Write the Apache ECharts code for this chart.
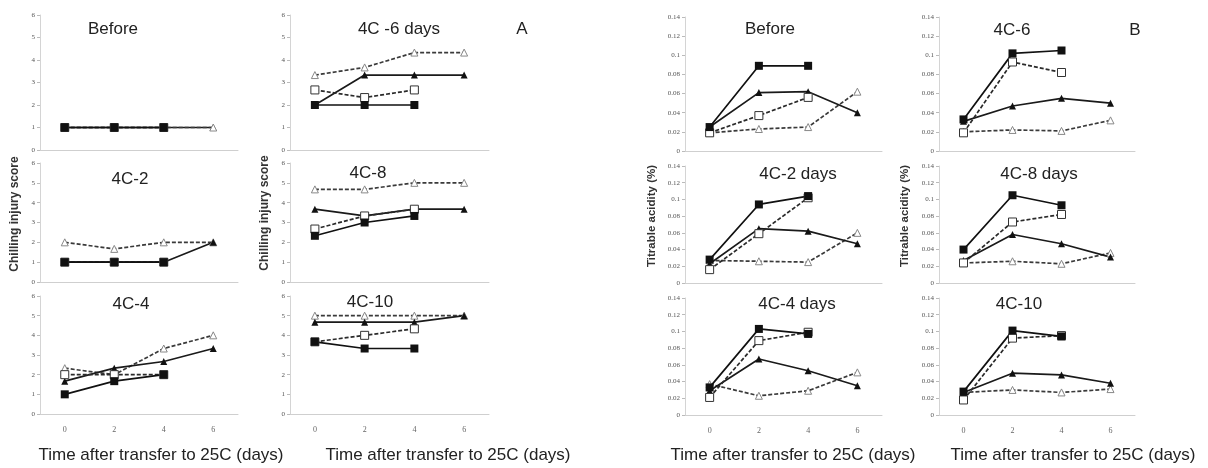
<!DOCTYPE html>
<html><head><meta charset="utf-8">
<script src="https://cdn.jsdelivr.net/npm/echarts@6/dist/echarts.min.js"></script>
<style>html,body{margin:0;padding:0;background:#fff}#c{width:1208px;height:468px}</style>
</head><body><div id="c"></div>
<script>
// x categories: days after transfer to 25C
const days = ['0', '2', '4', '6'];

// ---- Panel A: chilling injury score ----
const aBeforeSqF = [1, 1, 1, null];
const aBeforeSqO = [1, 1, 1, null];
const aBeforeTriF = [1, 1, 1, 1];
const aBeforeTriO = [1, 1, 1, 1];

const a6SqF = [2, 2, 2, null];
const a6SqO = [2.67, 2.33, 2.67, null];
const a6TriF = [2, 3.33, 3.33, 3.33];
const a6TriO = [3.33, 3.67, 4.33, 4.33];

const a2SqF = [1, 1, 1, null];
const a2SqO = [1, 1, 1, null];
const a2TriF = [1, 1, 1, 2];
const a2TriO = [2, 1.67, 2, 2];

const a8SqF = [2.33, 3, 3.33, null];
const a8SqO = [2.67, 3.33, 3.67, null];
const a8TriF = [3.67, 3.33, 3.67, 3.67];
const a8TriO = [4.67, 4.67, 5, 5];

const a4SqF = [1, 1.67, 2, null];
const a4SqO = [2, 2, 2, null];
const a4TriF = [1.67, 2.33, 2.67, 3.33];
const a4TriO = [2.33, 2, 3.33, 4];

const a10SqF = [3.67, 3.33, 3.33, null];
const a10SqO = [3.67, 4, 4.33, null];
const a10TriF = [4.67, 4.67, 4.67, 5];
const a10TriO = [5, 5, 5, 5];

// ---- Panel B: titrable acidity (%) ----
const bBeforeSqF = [0.025, 0.089, 0.089, null];
const bBeforeSqO = [0.019, 0.037, 0.056, null];
const bBeforeTriF = [0.025, 0.061, 0.062, 0.040];
const bBeforeTriO = [0.019, 0.023, 0.025, 0.062];

const b6SqF = [0.033, 0.102, 0.105, null];
const b6SqO = [0.019, 0.093, 0.082, null];
const b6TriF = [0.031, 0.047, 0.055, 0.050];
const b6TriO = [0.020, 0.022, 0.021, 0.032];

const b2SqF = [0.028, 0.094, 0.104, null];
const b2SqO = [0.016, 0.059, 0.102, null];
const b2TriF = [0.023, 0.065, 0.062, 0.047];
const b2TriO = [0.027, 0.026, 0.025, 0.060];

const b8SqF = [0.040, 0.105, 0.093, null];
const b8SqO = [0.024, 0.073, 0.082, null];
const b8TriF = [0.027, 0.058, 0.047, 0.031];
const b8TriO = [0.024, 0.026, 0.023, 0.036];

const b4SqF = [0.033, 0.103, 0.097, null];
const b4SqO = [0.021, 0.089, 0.099, null];
const b4TriF = [0.029, 0.067, 0.053, 0.035];
const b4TriO = [0.037, 0.023, 0.029, 0.051];

const b10SqF = [0.028, 0.101, 0.094, null];
const b10SqO = [0.018, 0.092, 0.095, null];
const b10TriF = [0.027, 0.050, 0.048, 0.038];
const b10TriO = [0.027, 0.030, 0.027, 0.031];

// panel layout (positions only)
const panels = [
  {title:'Before',     tx:113,  ty:29,  left:40,  width:198, top:15,  height:135, row:0, kind:'A', d:[aBeforeTriF,aBeforeTriO,aBeforeSqO,aBeforeSqF]},
  {title:'4C -6 days', tx:399,  ty:29,  left:290, width:199, top:15,  height:135, row:0, kind:'A', d:[a6TriO,a6TriF,a6SqO,a6SqF]},
  {title:'4C-2',       tx:130,  ty:179, left:40,  width:198, top:163, height:119, row:1, kind:'A', d:[a2TriO,a2TriF,a2SqO,a2SqF]},
  {title:'4C-8',       tx:368,  ty:173, left:290, width:199, top:163, height:119, row:1, kind:'A', d:[a8TriO,a8TriF,a8SqO,a8SqF]},
  {title:'4C-4',       tx:131,  ty:304, left:40,  width:198, top:296, height:118, row:2, kind:'A', d:[a4TriO,a4TriF,a4SqO,a4SqF]},
  {title:'4C-10',      tx:370,  ty:302, left:290, width:199, top:296, height:118, row:2, kind:'A', d:[a10TriO,a10TriF,a10SqO,a10SqF]},
  {title:'Before',     tx:770,  ty:29,  left:685, width:197, top:17,  height:134, row:0, kind:'B', d:[bBeforeTriO,bBeforeTriF,bBeforeSqO,bBeforeSqF]},
  {title:'4C-6',       tx:1012, ty:30,  left:939, width:196, top:17,  height:134, row:0, kind:'B', d:[b6TriO,b6TriF,b6SqO,b6SqF]},
  {title:'4C-2 days',  tx:798,  ty:174, left:685, width:197, top:166, height:117, row:1, kind:'B', d:[b2TriO,b2TriF,b2SqO,b2SqF]},
  {title:'4C-8 days',  tx:1039, ty:174, left:939, width:196, top:166, height:117, row:1, kind:'B', d:[b8TriO,b8TriF,b8SqO,b8SqF]},
  {title:'4C-4 days',  tx:797,  ty:304, left:685, width:197, top:298, height:117, row:2, kind:'B', d:[b4TriO,b4TriF,b4SqO,b4SqF]},
  {title:'4C-10',      tx:1019, ty:304, left:939, width:196, top:298, height:117, row:2, kind:'B', d:[b10TriO,b10TriF,b10SqO,b10SqF]}
];

// style per series kind
const kindStyles = {
  triO: {symbol:'triangle', size:7, type:[4,2], lineColor:'#3a3a3a', fill:'#fff', border:'#888', bw:1},
  triF: {symbol:'triangle', size:7, type:'solid', lineColor:'#1a1a1a', fill:'#111', border:'#111', bw:0},
  sqO:  {symbol:'rect', size:8, type:[4,2], lineColor:'#2a2a2a', fill:'#fff', border:'#333', bw:1},
  sqF:  {symbol:'rect', size:8, type:'solid', lineColor:'#111', fill:'#111', border:'#111', bw:0}
};

const grids = [], xAxes = [], yAxes = [], series = [], graphics = [];
const txtFont = 'Liberation Sans, Arial, sans-serif';

function kindOf(arr) {
  const names = {aBeforeTriF:1};
  return null;
}

panels.forEach((p, i) => {
  grids.push({left:p.left, top:p.top, width:p.width, height:p.height, containLabel:false});
  xAxes.push({
    type:'category', gridIndex:i, data:days, boundaryGap:true,
    axisLine:{show:true, lineStyle:{color:'#cfcfcf', width:1}},
    axisTick:{show:false},
    axisLabel:{show:p.row === 2, margin:12, fontSize:8, color:'#666', fontFamily:'Liberation Serif, serif'}
  });
  const isB = p.kind === 'B';
  yAxes.push({
    type:'value', gridIndex:i, min:0, max:isB ? 0.14 : 6, interval:isB ? 0.02 : 1,
    splitLine:{show:false},
    axisLine:{show:true, lineStyle:{color:'#d4d4d4', width:1}},
    axisTick:{show:true, length:3, lineStyle:{color:'#bbb'}},
    axisLabel:{fontSize:7, color:'#555', margin:5, fontFamily:'Liberation Serif, serif',
      formatter: v => isB ? String(+v.toFixed(2)) : String(v)}
  });
  // Before-A draws filled triangle first so the open triangle shows at day 6
  const order = (i === 0) ? ['triF','triO','sqO','sqF'] : ['triO','triF','sqO','sqF'];
  p.d.forEach((arr, k) => {
    const s = kindStyles[order[k]];
    series.push({
      type:'line', xAxisIndex:i, yAxisIndex:i, data:arr,
      symbol:s.symbol, symbolSize:s.size, showSymbol:true, showAllSymbol:true,
      connectNulls:false, animation:false, silent:true,
      lineStyle:{color:s.lineColor, width:1.7, type:s.type},
      itemStyle:{color:s.fill, borderColor:s.border, borderWidth:s.bw}
    });
  });
  graphics.push({type:'text', x:p.tx, y:p.ty, style:{text:p.title, font:'17px ' + txtFont, fill:'#222', align:'center', verticalAlign:'middle'}});
});

// panel letters
graphics.push({type:'text', x:522, y:29, style:{text:'A', font:'17px ' + txtFont, fill:'#222', align:'center', verticalAlign:'middle'}});
graphics.push({type:'text', x:1135, y:30, style:{text:'B', font:'17px ' + txtFont, fill:'#222', align:'center', verticalAlign:'middle'}});

// x-axis titles
[161, 448, 793, 1073].forEach(x => {
  graphics.push({type:'text', x:x, y:455, style:{text:'Time after transfer to 25C (days)', font:'17px ' + txtFont, fill:'#222', align:'center', verticalAlign:'middle'}});
});

// y-axis titles
[[15, 214, 'Chilling injury score', 12], [265, 213, 'Chilling injury score', 12], [652, 216, 'Titrable acidity (%)', 11.5], [905, 216, 'Titrable acidity (%)', 11.5]].forEach(([x, y, t, fs]) => {
  graphics.push({type:'text', x:x, y:y, rotation:Math.PI / 2, style:{text:t, font:'bold ' + fs + 'px ' + txtFont, fill:'#333', align:'center', verticalAlign:'middle'}});
});

const chart = echarts.init(document.getElementById('c'), null, {renderer:'canvas'});
chart.setOption({
  animation:false,
  backgroundColor:'#fff',
  grid:grids, xAxis:xAxes, yAxis:yAxes, series:series,
  graphic:graphics
});
</script>
</body></html>
